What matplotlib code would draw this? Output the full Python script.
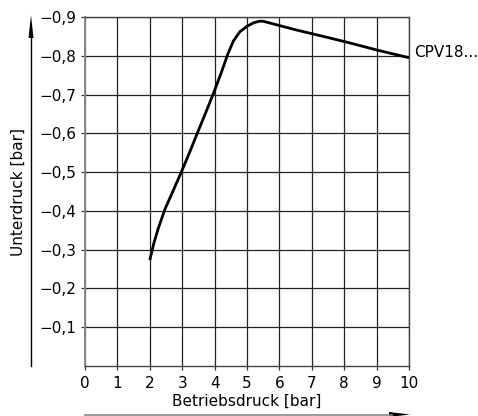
import matplotlib
matplotlib.use("Agg")
import matplotlib.pyplot as plt
import numpy as np

# Data
x_vals = [2.0, 2.12, 2.25, 2.47, 2.7, 2.93, 3.2, 3.45, 3.7, 3.95, 4.2, 4.41, 4.58, 4.78, 5.0, 5.2, 5.38, 5.5, 6.5, 7.5, 8.18, 9.0, 10.0]
y_vals = [-0.273, -0.315, -0.352, -0.405, -0.448, -0.492, -0.545, -0.597, -0.648, -0.70, -0.755, -0.805, -0.838, -0.862, -0.876, -0.885, -0.889, -0.889, -0.867, -0.847, -0.833, -0.815, -0.795]
x_ticks = [0, 1, 2, 3, 4, 5, 6, 7, 8, 9, 10]
y_ticks = [-0.1, -0.2, -0.3, -0.4, -0.5, -0.6, -0.7, -0.8, -0.9]
y_ticklabels = ["\u22120,1", "\u22120,2", "\u22120,3", "\u22120,4", "\u22120,5", "\u22120,6", "\u22120,7", "\u22120,8", "\u22120,9"]
series_label = "CPV18..."
xlabel = "Betriebsdruck [bar]"
ylabel = "Unterdruck [bar]"

W, H = 478, 416
fig = plt.figure(figsize=(W / 100, H / 100), dpi=100)
ax = fig.add_axes([85 / W, 1 - 366 / H, (409 - 85) / W, (366 - 17) / H])

ax.plot(x_vals, y_vals, color="black", lw=2.0, solid_capstyle="butt",
        solid_joinstyle="round", zorder=3)
ax.set_xlim(0, 10)
ax.set_ylim(0, -0.9)
ax.set_xticks(x_ticks)
ax.set_xticklabels([str(t) for t in x_ticks])
ax.set_yticks(y_ticks)
ax.set_yticklabels(y_ticklabels)
ax.grid(True, color="#222222", lw=0.9)
for s in ax.spines.values():
    s.set_color("#444444")
    s.set_linewidth(1.0)
ax.spines["left"].set_color("#888888")
ax.spines["left"].set_linewidth(1.4)
ax.tick_params(direction="out", length=3, width=0.9, color="#333333",
               labelsize=11, pad=3)
ax.tick_params(axis="x", pad=4)

ax.text(10.15, -0.808, series_label, fontsize=11, ha="left", va="center")

# Axis titles and arrows in figure coordinates
fig.text(18 / W, 1 - 192 / H, ylabel, rotation=90, fontsize=11, ha="center", va="center")
fig.text(247 / W, 1 - 401 / H, xlabel, fontsize=11, ha="center", va="center")

fig.add_artist(plt.Line2D([31 / W, 31 / W], [1 - 366 / H, 1 - 36 / H], color="black", lw=1.0))
fig.add_artist(plt.Polygon([[28.5 / W, 1 - 38 / H], [33.5 / W, 1 - 38 / H], [31 / W, 1 - 15 / H]],
                           closed=True, color="black", lw=0))
fig.add_artist(plt.Line2D([85 / W, 392 / W], [1 - 414.5 / H, 1 - 414.5 / H], color="#888888", lw=1.2))
fig.add_artist(plt.Polygon([[389 / W, 1 - 412 / H], [389 / W, 1 - 417 / H], [410 / W, 1 - 414.5 / H]],
                           closed=True, color="black", lw=0))

fig.savefig("out.png", dpi=100)
